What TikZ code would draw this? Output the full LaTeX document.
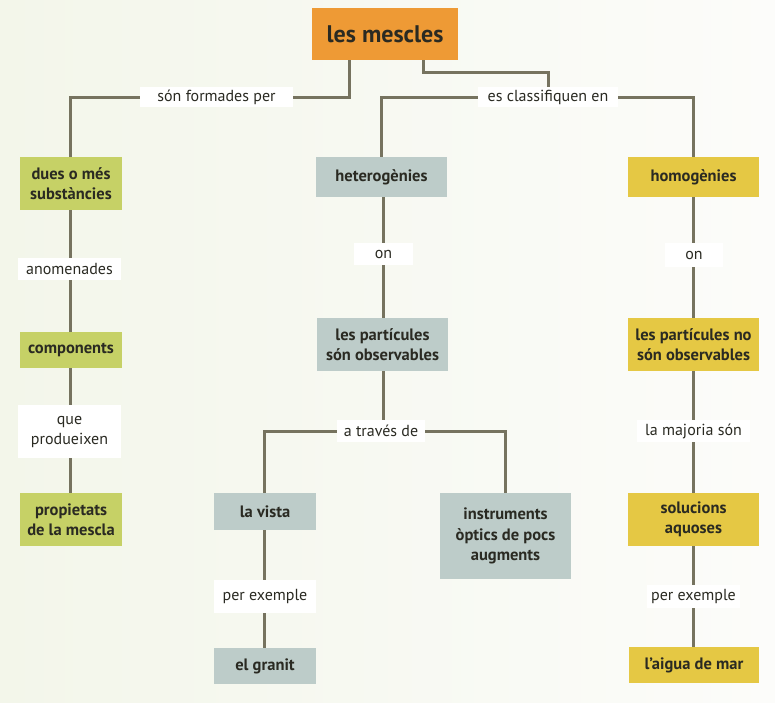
\documentclass[tikz,border=0pt]{standalone}
\usepackage{fontspec}
\setmainfont{PT Sans}
\definecolor{bgL}{HTML}{F3F6EA}
\definecolor{bgR}{HTML}{FCFCFA}
\definecolor{orng}{HTML}{EE9A35}
\definecolor{grn}{HTML}{C6D166}
\definecolor{gry}{HTML}{BDCCC9}
\definecolor{ylw}{HTML}{E5C844}
\definecolor{lin}{HTML}{76735F}
\definecolor{txt}{HTML}{2A2A22}
\begin{document}
\begin{tikzpicture}[x=1pt,y=-1pt,
  box/.style={inner sep=0pt, align=center, font=\bfseries\fontsize{16.5}{20.5}\selectfont, text=txt},
  lbl/.style={fill=white, inner sep=0pt, align=center, font=\fontsize{16}{20}\selectfont, text=txt},
  conn/.style={draw=lin, line width=3pt}]
\shade[left color=bgL, right color=bgR] (0,0) rectangle (775,702);
\useasboundingbox (0,0) rectangle (775,702);
% nodes
\node[box, fill=orng, minimum width=146pt, minimum height=52pt, font=\bfseries\fontsize{24}{26}\selectfont] (top) at (385,34) {les mescles};
\node[box, fill=grn, minimum width=102pt, minimum height=53pt] (dues) at (71,183.5) {dues o més\\substàncies};
\node[box, fill=grn, minimum width=102pt, minimum height=36pt] (comp) at (71,350) {components};
\node[box, fill=grn, minimum width=102pt, minimum height=53pt] (prop) at (71,519.5) {propietats\\de la mescla};
\node[box, fill=gry, minimum width=131pt, minimum height=40pt] (het) at (381.5,177) {heterogènies};
\node[box, fill=gry, minimum width=131pt, minimum height=53pt] (lpso) at (382.5,344.5) {les partícules\\són observables};
\node[box, fill=gry, minimum width=102pt, minimum height=37pt] (vista) at (265,511.5) {la vista};
\node[box, fill=gry, minimum width=102pt, minimum height=36pt] (granit) at (265,666) {el granit};
\node[box, fill=gry, minimum width=131pt, minimum height=86pt] (instr) at (505.5,536) {instruments\\òptics de pocs\\augments};
\node[box, fill=ylw, minimum width=131pt, minimum height=40pt] (hom) at (693.5,177) {homogènies};
\node[box, fill=ylw, minimum width=131pt, minimum height=53pt] (lpno) at (693.5,344.5) {les partícules no\\són observables};
\node[box, fill=ylw, minimum width=131pt, minimum height=53pt] (sol) at (693.5,519.5) {solucions\\aquoses};
\node[box, fill=ylw, minimum width=130pt, minimum height=36pt] (aigua) at (694,665) {l’aigua de mar};
% labels
\node[lbl, minimum width=153pt, minimum height=20pt] (l1) at (216.5,97) {són formades per};
\node[lbl, minimum width=140pt, minimum height=20pt] (l2) at (548,97) {es classifiquen en};
\node[lbl, minimum width=103pt, minimum height=22pt] (anom) at (69.5,269) {anomenades};
\node[lbl, minimum width=59pt, minimum height=22pt] (on1) at (383.5,254) {on};
\node[lbl, minimum width=58pt, minimum height=24pt] (on2) at (694,255) {on};
\node[lbl, minimum width=103pt, minimum height=53pt] (que) at (69.5,431.5) {que\\produeixen};
\node[lbl, minimum width=88pt, minimum height=22pt] (atd) at (381,431) {a través de};
\node[lbl, minimum width=113pt, minimum height=22pt] (maj) at (693.5,431) {la majoria són};
\node[lbl, minimum width=102pt, minimum height=33pt] (pe1) at (265,596.5) {per exemple};
\node[lbl, minimum width=93pt, minimum height=23pt] (pe2) at (693.5,596.5) {per exemple};
% connectors
\begin{scope}[conn]
\draw ([xshift=-36pt]top.south) |- (l1.east);
\draw (l1.west) -| ([xshift=-1pt]dues.north);
\draw ([xshift=38pt]top.south) -- ++(0,12) -| (l2.north);
\draw (l2.west) -| (het.north);
\draw (l2.east) -| (hom.north);
\draw ([xshift=-1pt]dues.south) -- ([xshift=0.5pt]anom.north);
\draw ([xshift=0.5pt]anom.south) -- ([xshift=-1pt]comp.north);
\draw ([xshift=-1pt]comp.south) -- ([xshift=0.5pt]que.north);
\draw ([xshift=0.5pt]que.south) -- ([xshift=-1pt]prop.north);
\draw ([xshift=1.5pt]het.south) -- ([xshift=-0.5pt]on1.north);
\draw ([xshift=-0.5pt]on1.south) -- ([xshift=0.5pt]lpso.north);
\draw ([xshift=0.5pt]lpso.south) -- ([xshift=2pt]atd.north);
\draw (atd.west) -| ([xshift=-1pt]vista.north);
\draw (atd.east) -| (instr.north);
\draw ([xshift=-1pt]vista.south) -- ([xshift=-1pt]pe1.north);
\draw ([xshift=-1pt]pe1.south) -- ([xshift=-1pt]granit.north);
\draw ([xshift=-0.5pt]hom.south) -- ([xshift=-1pt]on2.north);
\draw ([xshift=-1pt]on2.south) -- ([xshift=-0.5pt]lpno.north);
\draw ([xshift=-0.5pt]lpno.south) -- ([xshift=-0.5pt]maj.north);
\draw ([xshift=-0.5pt]maj.south) -- ([xshift=-0.5pt]sol.north);
\draw ([xshift=-0.5pt]sol.south) -- ([xshift=-0.5pt]pe2.north);
\draw ([xshift=-0.5pt]pe2.south) -- ([xshift=-1pt]aigua.north);
\end{scope}
\end{tikzpicture}
\end{document}
